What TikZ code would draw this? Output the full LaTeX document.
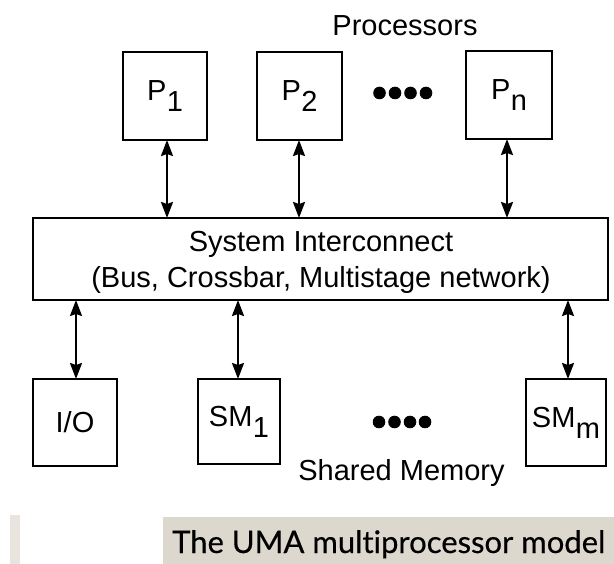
\documentclass[tikz,border=0pt]{standalone}
\usepackage{fontspec}
\setmainfont{Liberation Sans}
\newfontfamily\captionfont{Lato}[Ligatures=NoCommon, FakeBold=0.4]
\usetikzlibrary{arrows.meta}

\definecolor{bandgray}{HTML}{DDD8CE}
\definecolor{stripgray}{HTML}{E9E5DE}

% subscript-like label: same size, lowered
\newcommand{\lowsub}[1]{\kern0.5pt\raisebox{-11pt}{#1}}

\tikzset{
  unitbox/.style={draw=black, line width=2.4pt, inner sep=0pt, outer sep=0pt,
    font=\fontsize{29}{34}\selectfont},
  link/.style={line width=2pt, {Stealth[length=16pt,width=12pt,inset=2pt]}-{Stealth[length=16pt,width=12pt,inset=2pt]}},
  lbl/.style={font=\fontsize{29}{34}\selectfont, inner sep=0pt, anchor=base},
  dot/.style={fill=black}
}

\begin{document}
\begin{tikzpicture}[x=1pt, y=-1pt]
  \useasboundingbox (0,0) rectangle (614,564);

  % processors
  \node[lbl] (proc) at (405,36) {Processors};
  \node[unitbox, minimum width=84pt, minimum height=88pt] (p1) at (165,96) {P\lowsub{1}};
  \node[unitbox, minimum width=85pt, minimum height=88pt] (p2) at (299.5,96) {P\lowsub{2}};
  \node[unitbox, minimum width=86pt, minimum height=88pt] (pn) at (509,95) {P\lowsub{n}};
  \foreach \x in {379.5,395,410.5,426} \fill[dot] (\x,93) circle (6.3pt);

  % interconnect
  \node[unitbox, minimum width=575pt, minimum height=82pt] (bus) at (320.5,259) {};
  \node[lbl] (bus1) at (321,252) {System Interconnect};
  \node[lbl] (bus2) at (321,288) {(Bus, Crossbar, Multistage network)};

  % memory and I/O
  \node[unitbox, minimum width=84pt, minimum height=87pt] (io) at (75,422.5) {I/O};
  \node[unitbox, minimum width=82pt, minimum height=85pt] (sm1) at (239,421.5) {SM\lowsub{1}};
  \node[unitbox, minimum width=80pt, minimum height=87pt] (smm) at (566,422.5) {SM\lowsub{m}};
  \foreach \x in {379,394.5,410,425} \fill[dot] (\x,422) circle (6.3pt);
  \node[lbl] (shm) at (401.5,480) {Shared Memory};

  % links
  \coordinate (a1) at (167,140);
  \coordinate (a2) at (299,140);
  \coordinate (an) at (507,139);
  \draw[link] (a1) -- (a1 |- bus.north);
  \draw[link] (a2) -- (a2 |- bus.north);
  \draw[link] (an) -- (an |- bus.north);
  \coordinate (b0) at (76,300);
  \coordinate (b1) at (238,300);
  \coordinate (bm) at (568,300);
  \draw[link] (b0) -- (b0 |- io.north);
  \draw[link] (b1) -- (b1 |- sm1.north);
  \draw[link] (bm) -- (bm |- smm.north);

  % caption band
  \fill[stripgray] (10,515) rectangle (20,564);
  \fill[bandgray] (163,517) rectangle (614,564);
  \node[inner sep=0pt, anchor=base west, font=\captionfont\fontsize{31}{34}\selectfont] (cap) at (172,553) {The UMA multiprocessor model};
\end{tikzpicture}
\end{document}
